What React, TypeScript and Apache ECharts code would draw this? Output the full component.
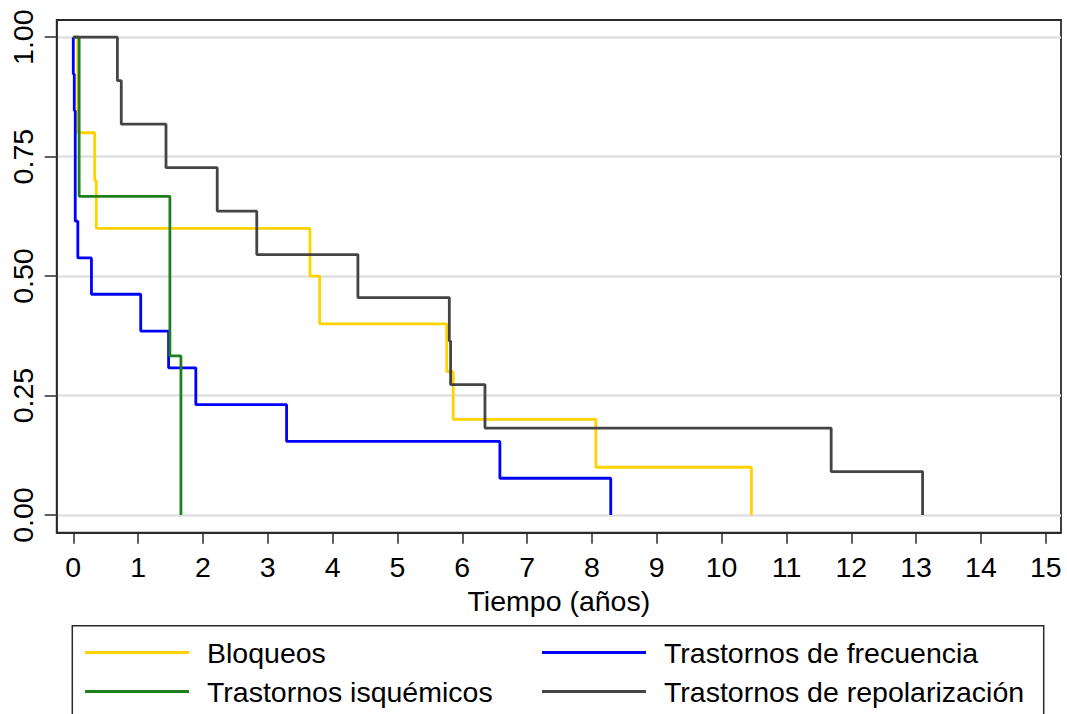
import React, { useEffect, useRef } from "react";
import * as echarts from "echarts";

// ---- data ----
const xTickValues = [0, 1, 2, 3, 4, 5, 6, 7, 8, 9, 10, 11, 12, 13, 14, 15];
const yTickValues = [0, 0.25, 0.5, 0.75, 1];

const seriesNames = [
  "Bloqueos",
  "Trastornos de frecuencia",
  "Trastornos isquémicos",
  "Trastornos de repolarización",
];

const bloqueosT = [0, 0.07, 0.33, 0.355, 3.65, 3.8, 5.76, 5.86, 8.06, 10.46];
const bloqueosS = [1, 0.8, 0.7, 0.6, 0.5, 0.4, 0.3, 0.2, 0.1, 0];

const frecuenciaT = [0, 0.0, 0.015, 0.03, 0.07, 0.28, 1.04, 1.47, 1.89, 3.29, 6.58, 8.29];
const frecuenciaS = [1, 0.923, 0.846, 0.615, 0.538, 0.462, 0.385, 0.308, 0.231, 0.154, 0.077, 0];

const isquemicosT = [0, 0.09, 1.49, 1.66];
const isquemicosS = [1, 0.667, 0.333, 0];

const repolT = [0, 0.68, 0.74, 1.43, 2.22, 2.83, 4.39, 5.8, 5.82, 6.35, 11.69, 13.1];
const repolS = [1, 0.909, 0.818, 0.727, 0.636, 0.545, 0.455, 0.364, 0.273, 0.182, 0.091, 0];

const colors = ["#FFD200", "#0000FF", "#1F7F1F", "#444444"];

const FONT = "'Liberation Sans', Arial, sans-serif";
const FS = 28.5;

function zip(t: number[], s: number[]) {
  return t.map((v, i) => [v, s[i]]);
}

export default function App() {
  const ref = useRef<HTMLDivElement>(null);

  useEffect(() => {
    if (!ref.current) return;
    const chart = echarts.init(ref.current, undefined, { renderer: "svg" });

    const datasets = [
      zip(bloqueosT, bloqueosS),
      zip(frecuenciaT, frecuenciaS),
      zip(isquemicosT, isquemicosS),
      zip(repolT, repolS),
    ];

    const legendCommon = {
      orient: "vertical" as const,
      top: 638,
      padding: 0,
      itemWidth: 104,
      itemHeight: 3,
      itemGap: 10,
      icon: "rect",
      selectedMode: false,
      textStyle: {
        fontSize: FS,
        lineHeight: 28,
        color: "#000",
        fontFamily: FONT,
        padding: [0, 0, 0, 13],
      },
    };

    chart.setOption({
      animation: false,
      backgroundColor: "#fff",
      textStyle: { fontFamily: FONT },
      grid: {
        left: 56.7,
        top: 20,
        right: 6,
        bottom: 181.3,
        show: true,
        borderColor: "#2a2a2a",
        borderWidth: 1.8,
        backgroundColor: "transparent",
      },
      legend: [
        { ...legendCommon, left: 85, data: [seriesNames[0], seriesNames[2]] },
        { ...legendCommon, left: 542, data: [seriesNames[1], seriesNames[3]] },
      ],
      xAxis: {
        type: "value",
        min: -0.256,
        max: 15.235,
        name: "Tiempo (años)",
        nameLocation: "middle",
        nameGap: 44,
        nameTextStyle: { fontSize: FS, color: "#000", fontFamily: FONT, lineHeight: 28, verticalAlign: "top" },
        axisLine: { show: true, onZero: false, lineStyle: { color: "#2a2a2a", width: 1.8 } },
        axisTick: {
          show: true,
          length: 11,
          customValues: xTickValues,
          lineStyle: { color: "#2a2a2a", width: 1.5 },
        },
        axisLabel: {
          customValues: xTickValues,
          fontSize: FS,
          lineHeight: 28,
          color: "#000",
          fontFamily: FONT,
          margin: 20,
        },
        splitLine: { show: false },
      },
      yAxis: {
        type: "value",
        min: -0.037,
        max: 1.036,
        axisLine: { show: true, onZero: false, lineStyle: { color: "#2a2a2a", width: 1.8 } },
        axisTick: {
          show: true,
          length: 12,
          customValues: yTickValues,
          lineStyle: { color: "#2a2a2a", width: 1.5 },
        },
        axisLabel: {
          customValues: yTickValues,
          rotate: 90,
          fontSize: FS,
          lineHeight: 28,
          color: "#000",
          fontFamily: FONT,
          margin: 20,
          formatter: (v: number) => v.toFixed(2),
        },
        splitLine: { show: true, lineStyle: { color: "#e0e0e0", width: 2.5 } },
      },
      graphic: [
        {
          type: "rect",
          shape: { x: 72.3, y: 625.7, width: 971.4, height: 120 },
          style: { fill: "none", stroke: "#2a2a2a", lineWidth: 1.5 },
          silent: true,
        },
      ],
      series: datasets.map((d, i) => ({
        name: seriesNames[i],
        type: "line",
        step: "end",
        data: d,
        symbol: "none",
        showSymbol: false,
        color: colors[i],
        lineStyle: { color: colors[i], width: 2.8 },
        z: 2 + i,
      })),
    });

    return () => chart.dispose();
  }, []);

  return (
    <div
      ref={ref}
      style={{ position: "absolute", left: 0, top: 0, width: 1067, height: 714 }}
    />
  );
}
